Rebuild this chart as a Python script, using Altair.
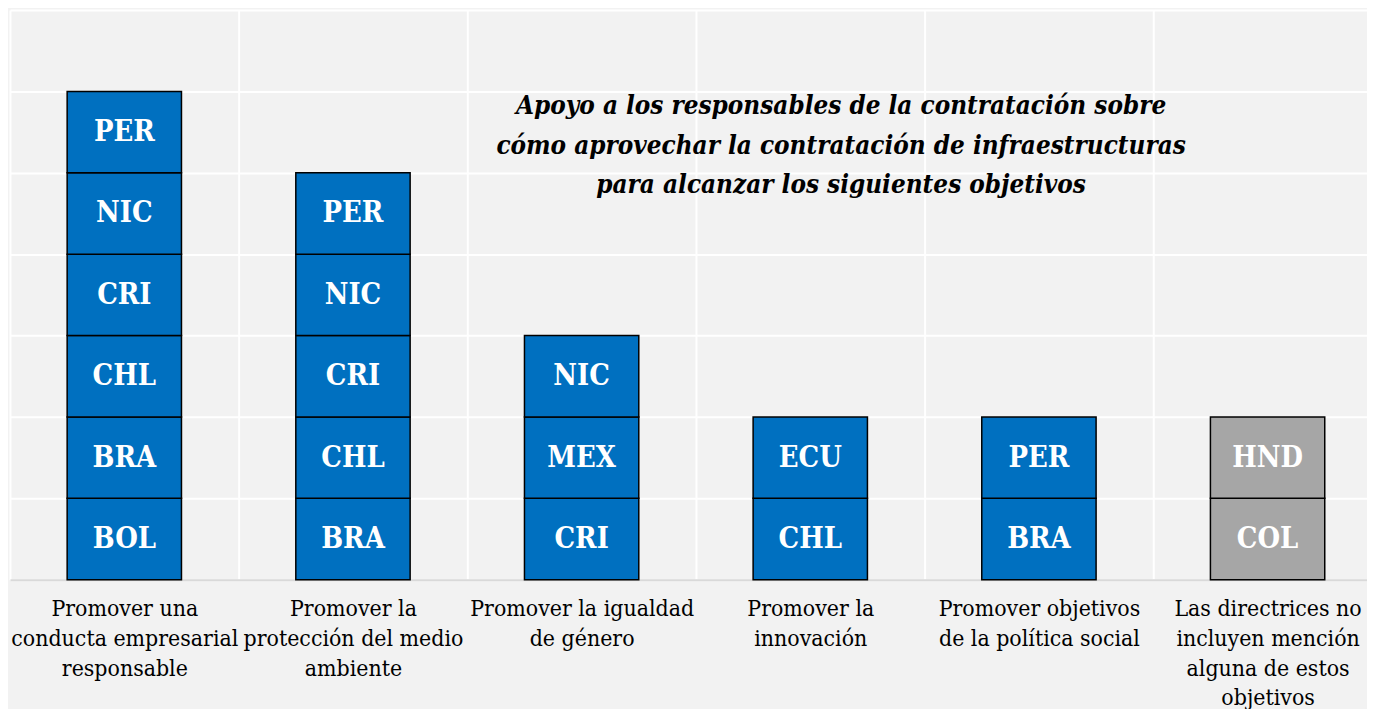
import altair as alt
import pandas as pd

categorias = [
    "Promover una\nconducta empresarial\nresponsable",
    "Promover la\nprotección del medio\nambiente",
    "Promover la igualdad\nde género",
    "Promover la\ninnovación",
    "Promover objetivos\nde la política social",
    "Las directrices no\nincluyen mención\nalguna de estos\nobjetivos",
]
paises = [
    ["BOL", "BRA", "CHL", "CRI", "NIC", "PER"],
    ["BRA", "CHL", "CRI", "NIC", "PER"],
    ["CRI", "MEX", "NIC"],
    ["CHL", "ECU"],
    ["BRA", "PER"],
    ["COL", "HND"],
]
grupos = ["objetivo", "objetivo", "objetivo", "objetivo", "objetivo", "ninguno"]
titulo = [
    "Apoyo a los responsables de la contratación sobre",
    "cómo aprovechar la contratación de infraestructuras",
    "para alcanzar los siguientes objetivos",
]
y_ticks = [0, 1, 2, 3, 4, 5, 6, 7]

rows = []
for cat, lista, g in zip(categorias, paises, grupos):
    for j, p in enumerate(lista):
        rows.append({"categoria": cat, "pais": p, "grupo": g,
                     "y0": j, "y1": j + 1, "ymid": j + 0.5})
df = pd.DataFrame(rows)

FONT = "'DejaVu Serif Condensed', 'DejaVu Serif', serif"

x_scale = alt.Scale(range=[0, 1380], paddingInner=0, paddingOuter=0)
x_enc = alt.X(
    "categoria:N",
    sort=categorias,
    scale=x_scale,
    axis=alt.Axis(
        title=None, grid=True, gridColor="white", gridWidth=2, tickBand="extent",
        ticks=False, domain=True, domainColor="#d9d9d9", domainWidth=2,
        labelFont=FONT, labelFontSize=23, labelColor="black", labelLineHeight=30,
        labelPadding=18, labelAngle=0, labelBaseline="top", labelLimit=0,
        labelExpr="split(datum.label, '\\n')",
    ),
)
y_scale = alt.Scale(domain=[0, 7], nice=False)

bars = alt.Chart(df).mark_bar(
    stroke="black", strokeWidth=1.5, width=alt.RelativeBandSize(0.5)
).encode(
    x=x_enc,
    y=alt.Y("y0:Q", scale=y_scale,
            axis=alt.Axis(title=None, values=y_ticks, grid=True, gridColor="white",
                          gridWidth=2, labels=False, ticks=False, domain=False)),
    y2="y1:Q",
    color=alt.Color("grupo:N",
                    scale=alt.Scale(domain=["objetivo", "ninguno"],
                                    range=["#0070c0", "#a6a6a6"]),
                    legend=None),
)

labels = alt.Chart(df).mark_text(
    font=FONT, fontSize=29, fontWeight="bold", color="white", baseline="middle"
).encode(
    x=alt.X("categoria:N", sort=categorias),
    y=alt.Y("ymid:Q", scale=y_scale),
    text="pais:N",
)

title_layer = alt.Chart(pd.DataFrame({"t": [0]})).mark_text(
    text=titulo, font=FONT, fontSize=26, fontStyle="italic", fontWeight="bold",
    lineHeight=39.5, align="center", baseline="middle", color="black",
).encode(x=alt.value(836), y=alt.value(97))

chart = alt.layer(title_layer, bars, labels).properties(
    width=1365, height=573,
    autosize=alt.AutoSizeParams(type="none"),
    padding={"left": 2, "top": 0, "right": 0, "bottom": 128},
    background="#f2f2f2",
).configure_view(stroke=None)

chart.save("out.html", embed_options={"renderer": "svg", "actions": False})
